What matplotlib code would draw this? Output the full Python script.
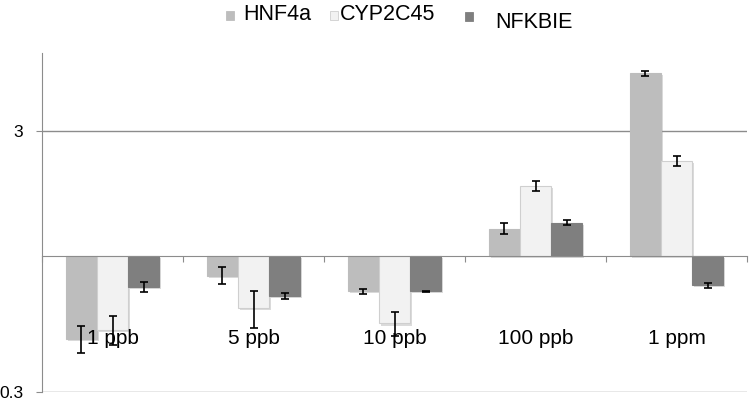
import matplotlib
matplotlib.use('Agg')
import matplotlib.pyplot as plt
import matplotlib.patheffects as pe
from matplotlib.patches import Rectangle
from matplotlib.ticker import NullLocator
import numpy as np

# data (fold change, log axis with bars from 1)
doses = ['1 ppb', '5 ppb', '10 ppb', '100 ppb', '1 ppm']
genes = ['HNF4a', 'CYP2C45', 'NFKBIE']
hnf4a = [0.48, 0.84, 0.73, 1.27, 5.02]
hnf4a_err = [0.057, 0.064, 0.017, 0.062, 0.12]
cyp2c45 = [0.52, 0.63, 0.55, 1.85, 2.31]
cyp2c45_err = [0.065, 0.10, 0.06, 0.083, 0.10]
nfkbie = [0.76, 0.70, 0.73, 1.34, 0.77]
nfkbie_err = [0.034, 0.019, 0.003, 0.03, 0.017]

colors = ['#bdbdbd', '#f2f2f2', '#7f7f7f']
edges = ['#bdbdbd', '#cfcfcf', '#7f7f7f']
grid_col = '#8c8c8c'

plt.rcParams['font.family'] = ['Liberation Sans', 'DejaVu Sans']

fig = plt.figure(figsize=(7.5, 4.01), dpi=100)
ax = fig.add_axes([0.056, 0.0224, 0.94, 0.8454])

x = np.arange(len(doses))
width = 0.22
series = [(hnf4a, hnf4a_err), (cyp2c45, cyp2c45_err), (nfkbie, nfkbie_err)]
shadow = [pe.SimplePatchShadow(offset=(1.5, -1.5), shadow_rgbFace='#999999', alpha=0.35), pe.Normal()]
for i, (vals, errs) in enumerate(series):
    vals = np.array(vals)
    pos = x + (i - 1) * width
    bars = ax.bar(pos, vals - 1, bottom=1, width=width, color=colors[i],
                  edgecolor=edges[i], linewidth=0.8, zorder=2)
    for b in bars:
        b.set_path_effects(shadow)
    ax.errorbar(pos, vals, yerr=errs, fmt='none', ecolor='black',
                elinewidth=1.2, capsize=2.6, capthick=1.2, zorder=5)

ax.set_yscale('log')
ax.set_ylim(0.3, 6)
ax.set_xlim(-0.5, 4.5)
ax.yaxis.set_minor_locator(NullLocator())
ax.set_yticks([0.3, 3])
ax.set_yticklabels(['0.3', '3'])
ax.tick_params(axis='y', length=4.5, color=grid_col, pad=9, labelsize=12.5)
ax.yaxis.grid(True, color=grid_col, linewidth=1.0)
ax.set_axisbelow(True)

# category axis crosses at 1
ax.spines['bottom'].set_position(('data', 1))
ax.spines['bottom'].set_color(grid_col)
ax.spines['left'].set_color(grid_col)
ax.spines['top'].set_visible(False)
ax.spines['right'].set_visible(False)
ax.set_xticks(np.arange(-0.5, 5, 1))
ax.xaxis.set_minor_locator(NullLocator())
ax.tick_params(axis='x', direction='out', length=4.5, color=grid_col, labelbottom=False)

for xi, lab in zip(x, doses):
    ax.text(xi, 0.159, lab, transform=ax.get_xaxis_transform(), ha='center',
            va='center', fontsize=15, zorder=4)

# legend along the top (pixel positions from the reference)
leg_x = [226, 330, 465]
leg_y = [11, 11, 12]
leg_tx = [243, 340, 495]
leg_ty = [15, 15, 23]
for i, g in enumerate(genes):
    fig.add_artist(Rectangle((leg_x[i] / 750, 1 - (leg_y[i] + 9) / 401), 8 / 750, 9 / 401,
                             transform=fig.transFigure, facecolor=colors[i],
                             edgecolor=edges[i], linewidth=0.6))
    fig.text(leg_tx[i] / 750, 1 - leg_ty[i] / 401, g, ha='left', va='center',
             fontsize=15.5)

fig.savefig('out.png', dpi=100)
